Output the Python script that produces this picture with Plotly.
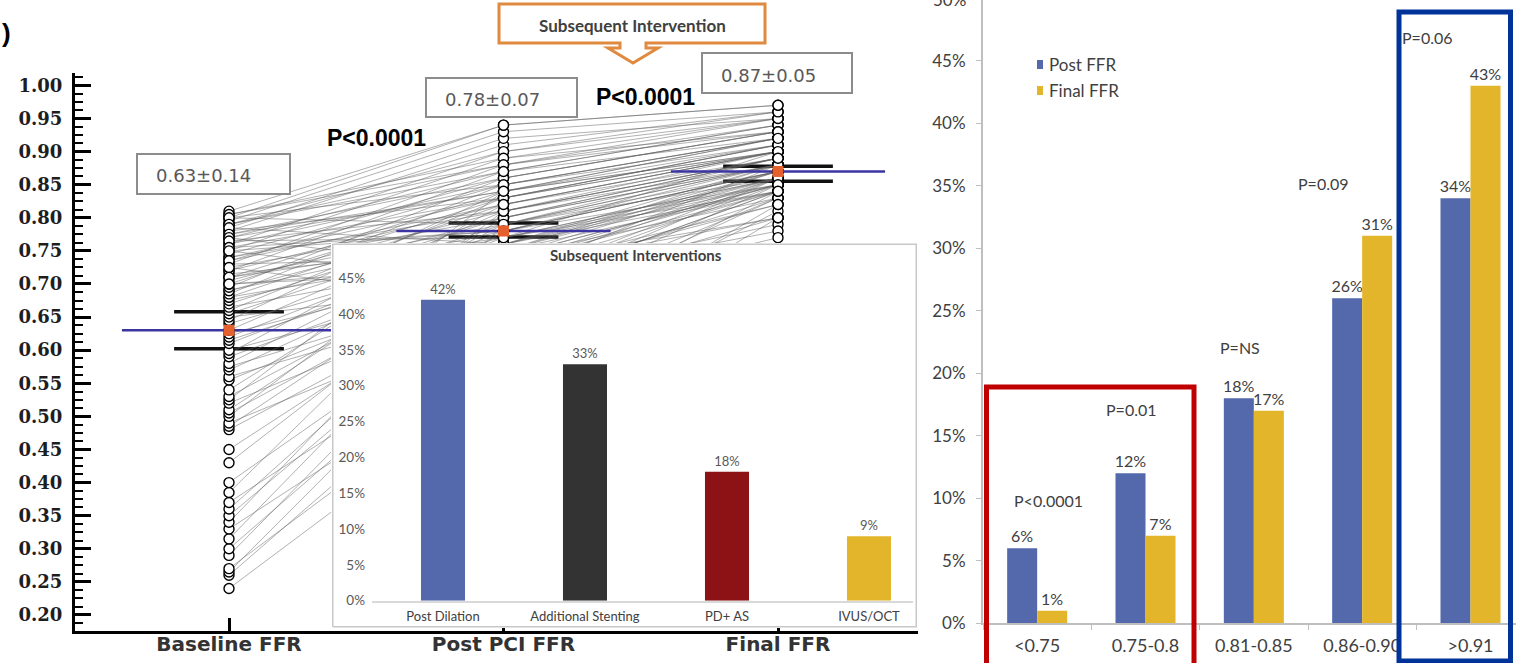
import plotly.graph_objects as go

W, H = 1516, 663

# ---------------- Left panel: patient-level FFR ----------------
stages = ["Baseline FFR", "Post PCI FFR", "Final FFR"]

baseline_ffr = [
    0.24, 0.26, 0.265, 0.27, 0.29, 0.30, 0.315, 0.33, 0.34, 0.35,
    0.36, 0.37, 0.385, 0.40, 0.43, 0.45,
    0.48, 0.485, 0.49, 0.50, 0.505, 0.51, 0.52, 0.525, 0.53, 0.54,
    0.555, 0.56, 0.57, 0.575, 0.58, 0.59, 0.595, 0.60, 0.61, 0.615,
    0.62, 0.625, 0.63, 0.64, 0.645, 0.65, 0.655, 0.66, 0.665, 0.67,
    0.675, 0.68, 0.68, 0.685, 0.69, 0.69, 0.695, 0.70, 0.70, 0.705,
    0.71, 0.71, 0.715, 0.72, 0.72, 0.725, 0.73, 0.73, 0.735, 0.74,
    0.74, 0.745, 0.75, 0.75, 0.755, 0.76, 0.76, 0.765, 0.77, 0.77,
    0.775, 0.78, 0.78, 0.785, 0.79, 0.79, 0.795, 0.80, 0.80, 0.805,
    0.81, 0.805, 0.80, 0.79, 0.785, 0.775, 0.77, 0.765, 0.755, 0.75,
    0.735, 0.725, 0.71, 0.70,
]
post_pci_ffr = [
    0.55, 0.62, 0.68, 0.58, 0.71, 0.66, 0.74, 0.60, 0.77, 0.70,
    0.73, 0.64, 0.79, 0.69, 0.75, 0.72,
    0.70, 0.76, 0.66, 0.81, 0.73, 0.78, 0.69, 0.84, 0.75, 0.80,
    0.72, 0.68, 0.76, 0.70, 0.79, 0.74, 0.82, 0.71, 0.77, 0.75,
    0.78, 0.73, 0.81, 0.76, 0.84, 0.70, 0.79, 0.83, 0.74, 0.80,
    0.77, 0.82, 0.75, 0.85, 0.80, 0.78, 0.86, 0.72, 0.83, 0.81,
    0.79, 0.84, 0.76, 0.87, 0.82, 0.80, 0.88, 0.74, 0.85, 0.83,
    0.81, 0.86, 0.78, 0.89, 0.83, 0.85, 0.90, 0.77, 0.87, 0.84,
    0.86, 0.91, 0.83, 0.92, 0.88, 0.90, 0.93, 0.85, 0.94, 0.89,
    0.94, 0.88, 0.79, 0.87, 0.76, 0.84, 0.72, 0.81, 0.78, 0.70,
    0.82, 0.67, 0.77, 0.73,
]
final_ffr = [
    0.80, 0.84, 0.86, 0.82, 0.88, 0.85, 0.87, 0.81, 0.90, 0.86,
    0.85, 0.83, 0.89, 0.84, 0.88, 0.86,
    0.85, 0.88, 0.83, 0.90, 0.86, 0.87, 0.84, 0.92, 0.87, 0.89,
    0.84, 0.80, 0.87, 0.83, 0.88, 0.85, 0.90, 0.82, 0.86, 0.86,
    0.88, 0.84, 0.89, 0.86, 0.91, 0.79, 0.87, 0.90, 0.85, 0.88,
    0.86, 0.90, 0.84, 0.92, 0.88, 0.87, 0.93, 0.80, 0.91, 0.89,
    0.88, 0.92, 0.85, 0.94, 0.90, 0.89, 0.95, 0.83, 0.92, 0.91,
    0.89, 0.93, 0.87, 0.95, 0.91, 0.92, 0.96, 0.85, 0.94, 0.90,
    0.93, 0.96, 0.90, 0.95, 0.94, 0.95, 0.96, 0.91, 0.97, 0.93,
    0.97, 0.93, 0.86, 0.92, 0.84, 0.90, 0.82, 0.88, 0.85, 0.78,
    0.89, 0.77, 0.84, 0.80,
]
stage_mean = [0.63, 0.78, 0.87]
stage_sd = [0.14, 0.07, 0.05]
ci_lower = [0.602, 0.771, 0.855]
ci_upper = [0.658, 0.792, 0.878]

# ---------------- Inset: subsequent interventions ----------------
interventions = ["Post Dilation", "Additional Stenting", "PD+ AS", "IVUS/OCT"]
intervention_pct = [42, 33, 18, 9]
intervention_colors = ["#5468AC", "#333333", "#8C1215", "#E3B52A"]

# ---------------- Right panel: FFR distribution ----------------
ffr_bins = ["<0.75", "0.75-0.8", "0.81-0.85", "0.86-0.90", ">0.91"]
post_ffr_pct = [6, 12, 18, 26, 34]
final_ffr_pct = [1, 7, 17, 31, 43]
p_values = ["P<0.0001", "P=0.01", "P=NS", "P=0.09", "P=0.06"]

BLUE = "#5468AC"
GOLD = "#E3B52A"
GREY_TXT = "#404040"


def px(x):
    return x / W


def py(y):
    return 1 - y / H


fig = go.Figure()

# --- left panel traces (xy) ---
ci_x, ci_y = [], []
for i, (lo, hi) in enumerate(zip(ci_lower, ci_upper)):
    for v in (lo, hi):
        ci_x += [i - 0.2, i + 0.2, None]
        ci_y += [v, v, None]
fig.add_trace(go.Scatter(x=ci_x, y=ci_y, mode="lines",
                         line=dict(color="#111111", width=3.5),
                         hoverinfo="skip"))

pat_x, pat_y = [], []
for b, p, f in zip(baseline_ffr, post_pci_ffr, final_ffr):
    pat_x += [0, 1, 2, None]
    pat_y += [b, p, f, None]
fig.add_trace(go.Scatter(x=pat_x, y=pat_y, mode="lines",
                         line=dict(color="rgba(95,95,95,0.55)", width=0.9),
                         hoverinfo="skip"))

mean_x, mean_y = [], []
for i, m in enumerate(stage_mean):
    mean_x += [i - 0.39, i + 0.39, None]
    mean_y += [m, m, None]
fig.add_trace(go.Scatter(x=mean_x, y=mean_y, mode="lines",
                         line=dict(color="#3C34A0", width=2.5),
                         hoverinfo="skip"))

for i, vals in enumerate([baseline_ffr, post_pci_ffr, final_ffr]):
    fig.add_trace(go.Scatter(
        x=[i] * len(vals), y=vals, mode="markers",
        marker=dict(symbol="circle", size=10, color="white",
                    line=dict(color="black", width=1.4)),
        name=stages[i]))

fig.add_trace(go.Scatter(x=[0, 1, 2], y=stage_mean, mode="markers",
                         marker=dict(symbol="square", size=11, color="#E4602E"),
                         hoverinfo="skip"))

# --- inset background (x2y2) ---
fig.add_trace(go.Scatter(x=[0, 1, 1, 0, 0], y=[0, 0, 1, 1, 0], mode="lines",
                         fill="toself", fillcolor="white",
                         line=dict(color="#C8C8C8", width=1.5),
                         xaxis="x2", yaxis="y2", hoverinfo="skip"))

# --- inset bars (x3y3) ---
fig.add_trace(go.Bar(
    x=interventions, y=intervention_pct, width=0.31,
    marker=dict(color=intervention_colors, line=dict(width=0)),
    text=[f"{v}%" for v in intervention_pct], textposition="outside",
    textfont=dict(family="Lato", size=13, color="#595959"),
    constraintext="none", cliponaxis=False,
    xaxis="x3", yaxis="y3"))

# --- right panel bars (x4y4) ---
fig.add_trace(go.Bar(
    x=ffr_bins, y=post_ffr_pct, name="Post FFR", offset=-0.277, width=0.277,
    marker=dict(color=BLUE, line=dict(width=0)),
    text=[f"{v}%" for v in post_ffr_pct], textposition="outside",
    textfont=dict(family="Lato", size=16, color=GREY_TXT),
    constraintext="none", cliponaxis=False,
    xaxis="x4", yaxis="y4"))
fig.add_trace(go.Bar(
    x=ffr_bins, y=final_ffr_pct, name="Final FFR", offset=0, width=0.277,
    marker=dict(color=GOLD, line=dict(width=0)),
    text=[f"{v}%" for v in final_ffr_pct], textposition="outside",
    textfont=dict(family="Lato", size=16, color=GREY_TXT),
    constraintext="none", cliponaxis=False,
    xaxis="x4", yaxis="y4"))

# ---------------- annotations ----------------
ann = []
shapes = []

ann.append(dict(x=px(0), y=py(33), xref="paper", yref="paper", text="<b>)</b>",
                showarrow=False, xanchor="left", yanchor="middle",
                font=dict(family="Liberation Sans", size=26, color="black")))

# mean ± SD boxes
box_px = [(137, 154, 290, 194), (426, 78, 577, 117), (702, 53, 852, 93)]
for (x0, y0, x1, y1), m, s in zip(box_px, stage_mean, stage_sd):
    shapes.append(dict(type="rect", xref="paper", yref="paper",
                       x0=px(x0), x1=px(x1), y0=py(y0), y1=py(y1),
                       line=dict(color="#8C8C8C", width=2), fillcolor="white"))
    ann.append(dict(x=px(x0 + 17), y=py((y0 + y1) / 2 + 2), xref="paper",
                    yref="paper", text=f"{m:.2f}±{s:.2f}", showarrow=False,
                    xanchor="left", yanchor="middle",
                    font=dict(family="DejaVu Sans", size=18, color="#595959")))

for (cx, cy) in [(376, 138), (645, 97)]:
    ann.append(dict(x=px(cx), y=py(cy), xref="paper", yref="paper",
                    text="<b>P<0.0001</b>", showarrow=False,
                    xanchor="center", yanchor="middle",
                    font=dict(family="Liberation Sans", size=23,
                              color="black")))

# callout for subsequent intervention
callout = [(499, 4), (765, 4), (765, 43), (646, 43), (646, 48), (658, 48),
           (633, 63), (608, 48), (620, 48), (620, 43), (499, 43)]
path = "M " + " L ".join(f"{px(x):.5f},{py(y):.5f}" for x, y in callout) + " Z"
shapes.append(dict(type="path", xref="paper", yref="paper", path=path,
                   line=dict(color="#E08A3F", width=3), fillcolor="white"))
ann.append(dict(x=px(632), y=py(26), xref="paper", yref="paper",
                text="<b>Subsequent Intervention</b>", showarrow=False,
                xanchor="center", yanchor="middle",
                font=dict(family="Lato", size=17, color=GREY_TXT)))

ann.append(dict(x=px(636), y=py(255), xref="paper", yref="paper",
                text="<b>Subsequent Interventions</b>", showarrow=False,
                xanchor="center", yanchor="middle",
                font=dict(family="Lato", size=15, color=GREY_TXT)))

# p-values over the distribution bars
p_pos = [(0.10, 9.8), (-0.13, 17.1), (-0.13, 22.1), (-0.36, 35.2), (-0.40, 46.9)]
for i, (txt, (dx, yv)) in enumerate(zip(p_values, p_pos)):
    ann.append(dict(x=i + dx, y=yv, xref="x4", yref="y4", text=txt,
                    showarrow=False, xanchor="center", yanchor="middle",
                    font=dict(family="Lato", size=16, color=GREY_TXT)))

ann.append(dict(x=px(968), y=py(-1), xref="paper", yref="paper", text="50%",
                showarrow=False, xanchor="right", yanchor="middle",
                font=dict(family="Lato", size=17, color=GREY_TXT)))

# manual legend
for name, col, yc in [("Post FFR", BLUE, 65), ("Final FFR", GOLD, 91)]:
    shapes.append(dict(type="rect", xref="paper", yref="paper",
                       x0=px(1037), x1=px(1043), y0=py(yc - 5), y1=py(yc + 4),
                       line=dict(width=0), fillcolor=col))
    ann.append(dict(x=px(1047), y=py(yc), xref="paper", yref="paper",
                    text=name, showarrow=False, xanchor="left",
                    yanchor="middle",
                    font=dict(family="Lato", size=17, color=GREY_TXT)))

# highlight frames
shapes.append(dict(type="rect", xref="paper", yref="paper",
                   x0=px(986.5), x1=px(1194), y0=py(387), y1=py(690),
                   line=dict(color="#C00000", width=5)))
shapes.append(dict(type="rect", xref="paper", yref="paper",
                   x0=px(1399), x1=px(1510.5), y0=py(12), y1=py(661),
                   line=dict(color="#003399", width=5)))

fig.update_layout(
    width=W, height=H, margin=dict(l=0, r=0, t=0, b=0),
    paper_bgcolor="white", plot_bgcolor="white", showlegend=False,
    annotations=ann, shapes=shapes, barmode="overlay",
    xaxis=dict(domain=[px(75), px(918)], range=[-0.561, 2.510],
               tickvals=[0, 1, 2], ticktext=[f"<b>{s}</b>" for s in stages],
               ticks="inside", ticklen=13, tickwidth=2.5, tickcolor="black",
               showline=True, linewidth=3, linecolor="black",
               showgrid=False, zeroline=False, ticklabelstandoff=-7,
               automargin=False,
               tickfont=dict(family="DejaVu Sans", size=20, color="#333333")),
    yaxis=dict(domain=[py(631), py(73)], range=[0.1758, 1.0187],
               tick0=0.2, dtick=0.05, tickformat=".2f",
               ticks="inside", ticklen=16, tickwidth=3, tickcolor="black",
               minor=dict(ticks="inside", ticklen=8, tickwidth=1.5,
                          tickcolor="black", dtick=0.0125, tick0=0.2),
               showline=True, linewidth=3, linecolor="black",
               showgrid=False, zeroline=False, ticklabelstandoff=6,
               automargin=False,
               tickfont=dict(family="DejaVu Serif", size=18, color="#1E1E1E"),
               tickprefix="<b>", ticksuffix="</b>"),
    xaxis2=dict(domain=[px(331), px(918)], range=[-0.003, 1.003],
                visible=False, anchor="y2", automargin=False),
    yaxis2=dict(domain=[py(628), py(243)], range=[-0.003, 1.003],
                visible=False, anchor="x2", automargin=False),
    xaxis3=dict(domain=[px(372), px(913)], range=[-0.5, 3.31], anchor="y3",
                showline=True, linecolor="#D9D9D9", linewidth=1.5,
                ticks="", showgrid=False, zeroline=False,
                ticklabelstandoff=3, automargin=False,
                tickfont=dict(family="Lato", size=13, color=GREY_TXT)),
    yaxis3=dict(domain=[py(600.7), py(270)], range=[0, 46.15], anchor="x3",
                dtick=5, ticksuffix="%", showline=False, ticks="",
                showgrid=False, zeroline=False, ticklabelstandoff=6,
                automargin=False,
                tickfont=dict(family="Lato", size=13.5, color="#595959")),
    xaxis4=dict(domain=[px(983), 1.0], range=[-0.5, 4.42], anchor="y4",
                showline=True, linecolor="#BFBFBF", linewidth=1.5,
                ticks="outside", tickson="boundaries", ticklen=5,
                tickcolor="#BFBFBF", showgrid=False, zeroline=False,
                ticklabelstandoff=5, automargin=False,
                tickfont=dict(family="Lato", size=18, color=GREY_TXT)),
    yaxis4=dict(domain=[py(623.3), 1.0], range=[0, 49.86], anchor="x4",
                dtick=5, ticksuffix="%", showline=True, linecolor="#BFBFBF",
                linewidth=2, ticks="outside", ticklen=5, tickcolor="#BFBFBF",
                showgrid=False, zeroline=False, ticklabelstandoff=7,
                automargin=False,
                tickfont=dict(family="Lato", size=17, color=GREY_TXT)),
)

fig.write_html("out.html")
